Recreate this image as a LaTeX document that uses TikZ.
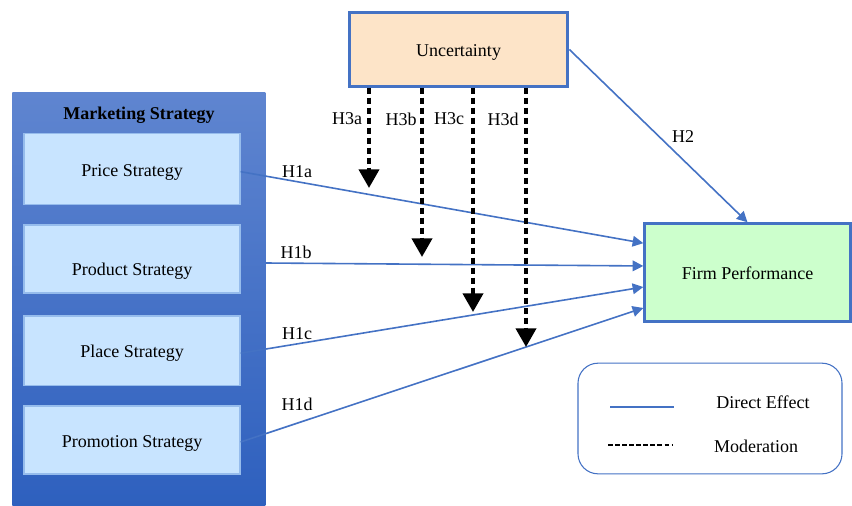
\documentclass[tikz,border=0pt]{standalone}
\usepackage{fontspec}
\setmainfont{Liberation Serif}
\usetikzlibrary{arrows.meta,positioning}
\definecolor{lineblue}{RGB}{68,114,196}
\definecolor{stratfill}{RGB}{200,228,255}
\definecolor{stratedge}{RGB}{150,188,236}
\definecolor{uncfill}{RGB}{253,228,200}
\definecolor{perffill}{RGB}{204,255,204}
\definecolor{outertop}{RGB}{95,133,208}
\definecolor{outerbot}{RGB}{46,96,190}

\tikzset{
  txt/.style={font=\fontsize{13.5}{16}\selectfont, inner sep=0pt},
  boxtxt/.style={txt, text height=11pt, text depth=0pt},
  stratbox/.style={boxtxt, draw=stratedge, line width=1pt, fill=stratfill,
    minimum width=162pt, minimum height=53pt},
  mainbox/.style={boxtxt, draw=lineblue, line width=2.3pt},
  effect/.style={lineblue, line width=1.2pt, -{Triangle[length=8pt,width=8pt]}},
  modarrow/.style={black, line width=3pt, dash pattern=on 5pt off 2.5pt,
    -{Triangle[length=14pt,width=15pt]}},
}

\begin{document}
\begin{tikzpicture}[x=0.75pt, y=-0.75pt]
    \useasboundingbox (0,0) rectangle (852,506);
    % marketing strategy block
    \node[anchor=north west, minimum width=189.75pt, minimum height=310.5pt, inner sep=0pt,
          top color=outertop, bottom color=outerbot] (mkt) at (12,92) {};
    \node[boxtxt, font=\fontsize{13.5}{16}\selectfont\bfseries] (mkttitle) at (139,112) {Marketing Strategy};
    \node[stratbox] (price) at (132,169) {Price Strategy};
    \node[stratbox, minimum height=51pt, text height=27pt, text depth=3pt] (product) at (132,259) {Product Strategy};
    \node[stratbox, minimum height=52pt] (place) at (132,350.5) {Place Strategy};
    \node[stratbox, minimum height=51pt] (promo) at (132,440) {Promotion Strategy};
    % moderator and outcome
    \node[mainbox, fill=uncfill, minimum width=164pt, minimum height=55pt] (unc) at (458.5,49.5) {Uncertainty};
    \node[mainbox, fill=perffill, minimum width=154pt, minimum height=73pt] (firm) at (747.5,272.5) {Firm Performance};
    % direct effects
    \draw[effect] ([yshift=-2pt]price.east) -- ([yshift=22pt]firm.west);
    \draw[effect] ([yshift=-3pt]product.east -| mkt.east) -- ([yshift=4.9pt]firm.west);
    \draw[effect] ([yshift=-2pt]place.east) -- ([yshift=-10.9pt]firm.west);
    \draw[effect] ([yshift=-1.5pt]promo.east) -- ([yshift=-26.6pt]firm.west);
    \draw[effect] (unc.east) -- (firm.north);
    \node[txt] (h1a) at (297,172) {H1a};
    \node[txt] (h1b) at (296,252) {H1b};
    \node[txt] (h1c) at (297,334) {H1c};
    \node[txt] (h1d) at (297,404) {H1d};
    \node[txt] (h2) at (683,137) {H2};
    % moderation
    \foreach \x/\ye/\lx/\lab [count=\i] in {369/188/347/H3a, 422/257/401/H3b, 473/312/449/H3c, 526/347/503/H3d}{
        \coordinate (m\i) at (\x,\ye);
        \draw[modarrow] (unc.south -| m\i) -- (m\i);
        \node[txt] (h3\i) at (\lx,119) {\lab};
    }
    % legend
    \node[draw=lineblue, line width=0.8pt, rounded corners=15pt, minimum width=198pt,
          minimum height=83pt] (legend) at (710,418.5) {};
    \coordinate (ls1) at (610,407); \coordinate (ls2) at (674,407);
    \coordinate (ld1) at (608,445); \coordinate (ld2) at (673,445);
    \draw[lineblue, line width=1.2pt] (ls1) -- (ls2);
    \draw[black, line width=1.2pt, dash pattern=on 3.5pt off 1.8pt] (ld1) -- (ld2);
    \node[boxtxt] (direct) at (763,401) {Direct Effect};
    \node[boxtxt] (moder) at (756,445) {Moderation};
\end{tikzpicture}
\end{document}
